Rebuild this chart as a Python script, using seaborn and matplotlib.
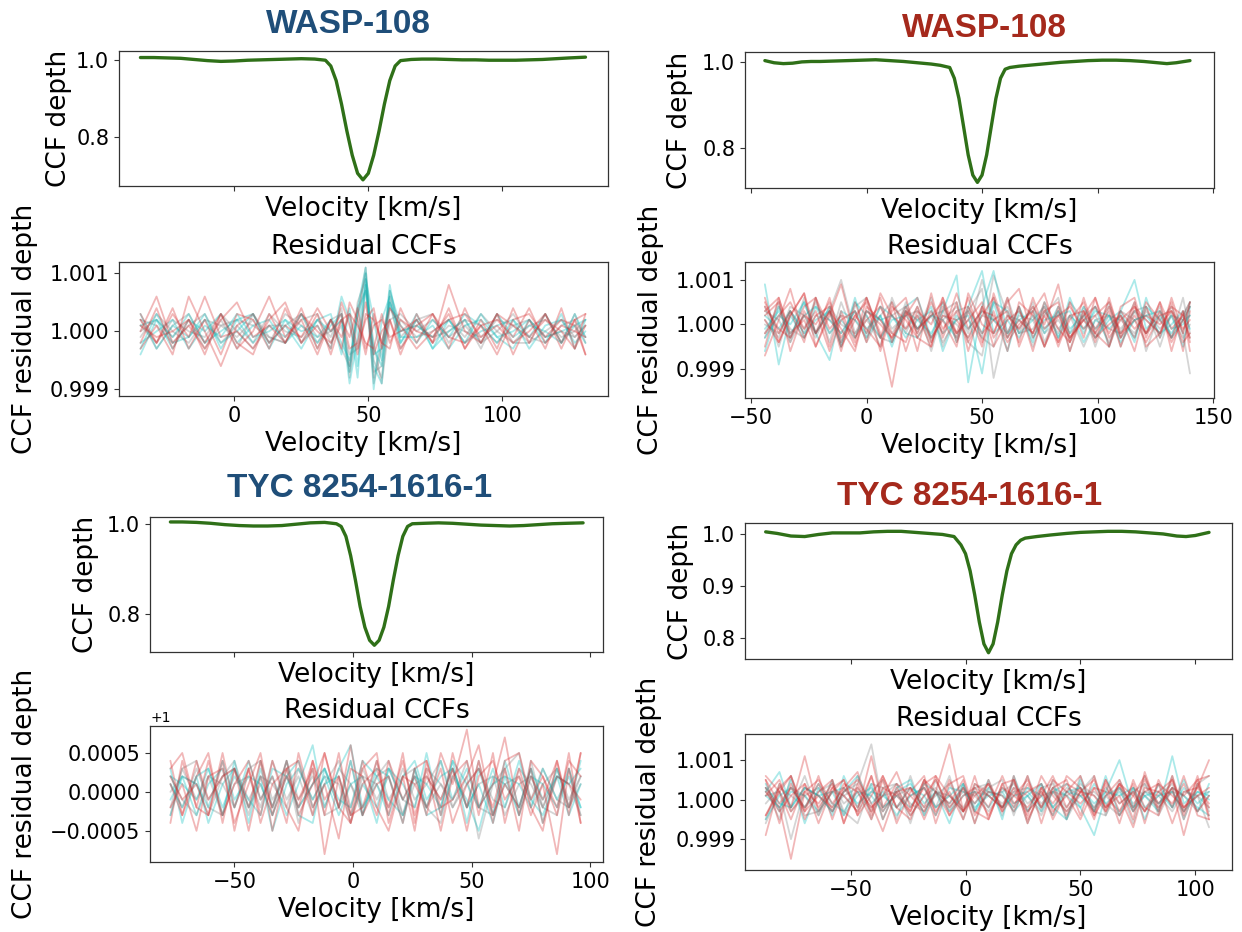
"""CCF profiles and residual CCFs for WASP-108 and TYC 8254-1616-1 (two nights each)."""

import matplotlib

matplotlib.use("Agg")
import matplotlib.pyplot as plt
import pandas as pd
import seaborn as sns

W, H = 1242, 932

BLUE = "#1f4e79"
RED = "#a5291c"
GREEN = "#2f7018"
PALETTE = {"grey": "grey", "cyan": "c", "red": "tab:red"}

# ---------------------------------------------------------------- top left
TL_TITLE = "WASP-108"
TL_CCF_V = [-35, -30, -25, -20, -15, -10, -5, 0, 5, 10, 15, 20, 25, 30, 34, 36, 38, 40, 42,
            44, 46, 48, 50, 52, 54, 56, 58, 60, 62, 66, 70, 75, 80, 85, 90, 95, 100, 105,
            110, 115, 120, 125, 131]
TL_CCF = [1.006, 1.006, 1.005, 1.004, 1.001, 0.998, 0.996, 0.997, 0.999, 1.000, 1.001, 1.002,
          1.003, 1.002, 0.999, 0.984, 0.946, 0.885, 0.815, 0.752, 0.705, 0.688, 0.705, 0.752,
          0.815, 0.885, 0.946, 0.984, 0.998, 1.001, 1.002, 1.002, 1.001, 1.000, 1.000, 0.999,
          0.999, 0.999, 1.000, 1.001, 1.003, 1.005, 1.007]
TL_RES_V = [-35, -29, -23, -17, -11, -5, 1, 7, 13, 19, 25, 31, 36, 40, 43, 46, 49, 52, 55,
            58, 62, 68, 74, 80, 86, 92, 98, 104, 110, 116, 122, 127, 131]
# residuals in units of 1e-4
TL_RED = [
    [0, 6, -2, 1, -3, 2, 5, -1, 1, -2, 3, 0, -2, 2, -1, 4, -3, 1, 2, -1, 0, 2, -2, 8, 0, -2, 3, 1, -1, 2, 0, -3, 1],
    [-3, 1, -4, 6, 0, -6, 1, 3, -2, 1, -1, 4, 0, 3, -3, -2, 5, -4, 0, 2, -3, 1, 3, -1, -2, 1, -4, 2, 3, -1, 2, 1, -4],
    [2, -2, 3, -1, 6, -1, 0, -3, 2, 5, -2, 1, -3, 5, 1, -4, 3, 2, -2, 4, 1, -3, 0, 2, 3, -1, 1, -2, 0, 3, -2, 2, 3],
    [1, -1, 0, 2, -2, 3, -3, 0, 6, -1, 2, -4, 2, -1, 3, 1, -2, -3, 3, -2, 2, 0, -1, 3, -3, 1, 2, -1, 4, -2, 1, 0, -1],
    [3, -2, 4, -3, 2, -4, 3, 2, -3, 4, -2, 3, -4, 2, 3, -3, 2, 4, -3, 2, -4, 3, -2, 4, -3, 2, -3, 4, -2, 3, -3, 2, -4],
    [-2, 4, -3, 2, -4, 3, -2, -4, 3, -2, 4, -3, 2, -3, 5, 2, -4, 3, -2, -3, 4, -2, 3, -3, 4, -2, 3, -4, 2, -3, 4, -3, 3],
]
TL_CYAN = [
    [-4, 2, -1, 3, -2, 0, 2, -2, 1, -1, 3, -2, 1, 3, -7, 4, 11, -6, -9, 7, 1, -2, 2, -1, 3, 1, -2, 2, -1, 3, -2, 1, 2],
    [3, -3, 1, -1, 2, -2, 0, 3, -3, 2, 0, 1, -3, 6, 2, -8, 9, 2, -5, 8, -2, 2, -3, 0, 2, -2, 3, -1, 1, 0, -2, 3, -1],
    [1, 2, -3, 2, 0, 3, -2, 1, 2, -2, 1, -1, 2, -2, -5, 3, 7, -4, -3, 5, 0, 1, -1, 2, -2, 0, 1, 2, -3, 1, 2, -2, 0],
    [-2, 0, 2, -3, 1, -1, 3, -1, 0, 2, -2, 2, 0, 2, -9, -1, 10, -10, 2, 6, -1, -1, 1, -3, 1, 2, -1, 0, 2, -1, 0, 1, -2],
    [-3, 3, -2, -1, 3, -3, 2, 3, -2, 1, -3, 2, 3, -4, 4, -6, 8, -3, -6, 5, -2, 3, -3, 2, -2, 3, -1, -3, 2, -2, 3, -3, 2],
]
TL_GREY = [
    [2, 1, -2, 1, 3, -2, 1, -2, 3, 0, -1, 2, -1, 4, -8, 2, 11, -5, -8, 4, 2, -1, 0, 2, -1, 3, 0, -2, 1, 2, -1, 0, 2],
    [-1, 3, 0, -2, 2, 1, -1, 2, -2, 3, 1, -2, 2, -3, -6, 5, 9, -9, -3, 6, -1, 2, -2, 1, 0, -1, 2, 1, -2, 0, 2, -1, 1],
    [1, -2, 2, 0, -1, 3, 0, -3, 1, 1, 3, -1, 0, 2, -4, -3, 8, -2, -9, 2, 3, 0, 2, -1, 1, -2, 0, 3, -1, -2, 1, 2, -1],
    [0, 2, -1, 2, -3, 1, 2, 1, -1, -2, 2, 3, -2, 1, -7, 3, 10, -7, -6, 7, 0, 1, -1, 0, 2, 1, -2, 1, 2, -1, 0, -1, 1],
    [2, -3, 1, 3, -2, 2, -3, 3, -1, -2, 3, -3, 2, 3, -6, 4, 7, -8, -2, 5, -3, 2, 3, -2, 2, -3, 3, -2, -2, 3, -2, 3, -2],
]

# --------------------------------------------------------------- top right
TR_TITLE = "WASP-108"
TR_CCF_V = [-44, -40, -36, -32, -28, -24, -20, -14, -8, -2, 4, 10, 16, 22, 28, 32, 36, 38, 40,
            42, 44, 46, 48, 50, 52, 54, 56, 58, 60, 62, 66, 72, 78, 84, 90, 96, 102, 108, 114,
            120, 126, 130, 134, 140]
TR_CCF = [1.003, 0.998, 0.996, 0.997, 1.000, 1.001, 1.001, 1.002, 1.003, 1.004, 1.005, 1.003,
          1.001, 0.998, 0.995, 0.992, 0.987, 0.962, 0.915, 0.850, 0.784, 0.737, 0.720, 0.737,
          0.784, 0.850, 0.915, 0.962, 0.983, 0.987, 0.990, 0.993, 0.996, 0.999, 1.001, 1.003,
          1.004, 1.004, 1.003, 1.001, 0.998, 0.996, 0.998, 1.003]
TR_RES_V = [-44, -38, -33, -27, -22, -16, -11, -5, 0, 6, 11, 17, 22, 28, 33, 39, 44, 50, 55,
            61, 66, 72, 77, 83, 88, 94, 99, 105, 110, 116, 121, 127, 132, 137, 140]
TR_RED = [
    [5, -2, 3, -4, 6, -1, 2, -5, 3, 0, -3, 4, -2, 5, -1, 3, -4, 2, 6, -3, 1, -2, 4, -5, 2, 3, -1, 4, -3, 2, -2, 5, -1, 2, -3],
    [-7, 1, 8, -3, 2, 4, -5, 1, 6, -2, -14, 3, -1, 2, 5, -3, 4, -2, 1, 3, -4, 6, -1, 2, -3, 1, 4, -2, 3, -1, 2, 0, 3, -4, -2],
    [3, 6, -2, 1, -5, 2, 9, -3, 1, 4, -2, -4, 3, 0, 6, -2, 1, 5, -3, 2, -1, 4, 0, 9, -3, 1, -2, 3, -5, 4, 1, -2, 4, 2, 5],
    [-2, 2, 5, -1, 3, -6, 1, 3, -4, 7, 2, -1, 4, -3, 1, -5, 7, 0, -2, 5, 8, -3, 2, -4, 1, 5, -3, 0, 2, -3, 5, 1, -3, 3, -6],
    [1, -4, 2, 7, -2, 3, -1, -6, 4, 1, -3, 2, 6, -4, 2, 1, -3, 4, -5, 1, 3, -2, 5, -1, -4, 2, 6, -3, 1, 4, -2, 3, -4, 1, 4],
    [4, -1, -3, 2, 0, 5, -3, 2, -1, -5, 4, 1, -3, 3, -2, 7, -1, 3, 2, -4, 0, 3, -5, 2, 4, -1, 2, 5, -2, 1, -4, 2, 3, -1, 1],
    [6, -4, 2, 7, -5, 3, -6, 5, -2, 6, -4, 3, -6, 7, -3, 5, -6, 4, -2, 6, -5, 3, 7, -4, 5, -3, 6, -5, 2, -6, 4, -3, 6, -2, 5],
    [-5, 6, -3, 4, 6, -5, 3, -4, 6, -3, 5, -6, 2, -5, 6, -4, 3, -5, 7, -2, 4, -6, 3, 5, -4, 6, -2, -5, 4, 6, -3, 5, -6, 3, -4],
    [2, 5, -6, 3, -2, 6, -4, 2, 5, -6, 3, 6, -3, -5, 4, -2, 6, -4, 3, -6, 5, 2, -5, 4, -6, 3, -4, 6, -3, 5, -5, -2, 5, -6, 3],
]
TR_CYAN = [
    [9, -9, 2, -3, 4, 1, -2, 3, -1, 2, -4, 3, 1, -2, 3, 11, -13, 4, 12, -2, 1, 3, -2, 4, -1, 2, -3, 1, 3, 10, -1, 2, -3, 1, 4],
    [-3, 2, 0, 5, -2, -8, 3, 1, -2, 4, 2, -3, 1, 3, -2, 1, 2, -11, 5, 3, -2, 1, 4, -3, 2, -1, 3, 2, -4, 1, 2, -2, 0, 3, -1],
    [2, -1, 3, -2, 1, 3, -4, 5, 2, -3, 1, 2, -1, 4, -6, 2, -1, 3, 1, -2, 4, -3, 1, 2, 3, -4, 1, -1, 2, -3, 4, 1, -2, 2, 5],
    [-1, 3, -2, 2, 4, -2, 1, -3, 3, 1, 2, -2, -3, 2, 1, -3, 4, 12, -2, 1, -3, 2, -1, 3, -2, 4, -1, 2, -3, 1, 2, 3, -1, 0, 2],
    [-6, 4, -3, 5, -2, 4, -5, 6, -3, 2, -5, 4, 6, -3, 5, -4, 3, -2, 5, -6, 3, -4, 5, -3, 6, -2, 4, -5, 3, -4, 6, -3, 2, -5, 4],
]
TR_GREY = [
    [1, -3, 4, 2, -2, 3, 10, -2, 1, -3, 2, 4, -1, 2, -4, 1, 3, 8, -12, 2, 1, -2, 3, -1, 2, -5, 1, 2, -1, 3, -2, 1, 4, -2, -11],
    [-2, 4, -1, -3, 2, 1, -2, 3, -4, 2, 5, -1, 2, -3, 1, 4, -2, 10, 1, -3, 2, 1, -5, 3, -2, 1, 2, -4, 3, 1, -2, 4, -3, 1, 2],
    [3, 1, -4, 2, -3, 4, 0, -2, 3, 1, -2, 3, -1, 2, 3, -2, 1, -3, 11, 2, -1, 4, -2, 1, -3, 2, 4, -1, -2, 3, 1, -2, 2, -3, 0],
    [0, -2, 3, -1, 5, -2, 2, 1, -3, 4, -1, 2, 3, -4, 2, 0, -3, 2, 1, 4, -2, -1, 3, -2, 5, 1, -3, 2, 1, -2, 3, -1, 2, 1, -3],
    [4, -5, 3, -2, 6, -4, 5, -3, 2, -5, 6, -2, 4, -6, 3, 5, -4, -7, 6, -3, 4, -5, 2, 6, -4, 3, -5, 4, -2, 5, -6, 3, -3, 6, -2],
    [-3, 5, -4, 6, -2, 3, -5, 4, 6, -3, -4, 5, -2, 6, -5, 3, 4, -3, -5, 6, -2, 5, -4, 3, -6, 4, -2, 5, -5, 3, 4, -5, 3, -2, 5],
]

# ------------------------------------------------------------- bottom left
BL_TITLE = "TYC 8254-1616-1"
BL_CCF_V = [-77, -72, -66, -60, -54, -48, -42, -36, -30, -24, -18, -12, -7, -5, -3, -1, 1, 3,
            5, 7, 9, 11, 13, 15, 17, 19, 21, 23, 25, 30, 36, 42, 48, 54, 60, 66, 72, 78, 84,
            90, 97]
BL_CCF = [1.005, 1.005, 1.004, 1.002, 0.999, 0.997, 0.996, 0.996, 0.997, 1.000, 1.003, 1.004,
          1.001, 0.995, 0.973, 0.930, 0.876, 0.817, 0.771, 0.742, 0.731, 0.742, 0.771, 0.817,
          0.876, 0.930, 0.973, 0.995, 1.001, 1.002, 1.003, 1.002, 1.000, 0.998, 0.997, 0.996,
          0.997, 0.999, 1.001, 1.002, 1.003]
BL_RES_V = [-77, -72, -66, -61, -55, -50, -44, -39, -34, -28, -23, -17, -12, -6, -1, 4, 10, 15,
            21, 26, 31, 37, 42, 48, 53, 59, 64, 70, 75, 80, 86, 91, 96]
BL_RED = [
    [3, 5, -2, 4, -3, 1, 4, -1, 2, -4, 5, -2, 1, -6, 3, 2, -3, 4, -1, 2, -3, 5, 1, 8, -2, 1, 7, -3, 2, -1, 4, -2, 5],
    [-2, 1, -5, 2, 3, -4, 1, 5, -3, 2, -1, 3, -8, 2, -4, 1, 3, -2, 4, -3, 2, -1, 3, -5, 2, 4, -1, 2, -3, 1, -8, 3, -4],
    [1, -3, 4, -1, 2, 3, -5, 2, -2, 4, -3, 1, 5, -2, 6, -3, 1, 2, -4, 3, 4, -2, -1, 2, 6, -3, 1, -2, 3, -4, 2, 1, -1],
    [2, -1, 1, -3, 5, -2, 3, -4, 1, 3, -2, 4, -1, 2, -3, 4, -2, -5, 2, 1, -2, 3, -4, 1, 3, -2, 4, 5, -1, 2, -2, 4, 2],
    [4, -3, 2, 5, -4, 3, -2, 4, -5, 3, 4, -3, 5, -2, -4, 3, 5, -4, 2, -5, 4, -3, 5, -2, 4, -4, 3, -5, 4, 2, -3, 5, -4],
    [-4, 4, -2, -3, 4, -5, 3, -3, 4, -2, -5, 4, -3, 5, -3, -2, 4, -3, 5, -4, 3, -5, 2, 4, -3, 5, -4, 3, -2, -5, 4, -3, 5],
]
BL_CYAN = [
    [-1, 2, -3, 1, 3, -2, 4, -1, 2, -3, 1, 6, -2, 3, 6, -2, 1, -3, 2, 4, -1, 2, 3, -2, 1, -4, 2, 1, -2, 3, -1, 2, -2],
    [1, -2, 2, -4, 1, 3, -2, 2, -5, 1, 3, -1, 2, -3, 1, 2, -4, 3, 1, -2, 5, -3, 2, -1, -5, 2, 1, -2, 3, -1, 2, -3, 1],
    [2, 1, -1, 3, -2, 2, -1, -3, 3, 2, -2, 1, 3, -1, -2, 4, 2, -1, -3, 2, 1, -2, 4, 1, -2, 3, -2, 4, -1, -3, 2, 1, 3],
    [-3, 2, 1, -2, 4, -1, 2, 1, -3, 2, 4, -2, 1, 2, -3, 1, -2, 3, -1, 2, -2, 4, -1, 3, -2, 1, 2, -3, 2, 1, -2, 3, -2],
    [3, -4, 2, 3, -3, 4, -4, 3, -2, 4, -3, -4, 3, -2, 4, -3, 3, 2, -4, 3, -3, -2, 4, -4, 3, -3, 4, -2, 3, -4, 3, -2, 4],
]
BL_GREY = [
    [1, -2, 3, -1, 2, 4, -2, 1, -3, 4, -1, 2, -2, 3, 1, -2, 2, 3, -1, -2, 3, 1, -2, 2, -6, 1, 3, 5, -2, 1, 3, -1, 2],
    [-2, 3, -1, 2, -3, 1, 2, -2, 4, -1, 2, -3, 1, 4, -2, 3, -1, 2, -3, 1, 2, -1, 3, -2, 1, 2, -3, 1, 2, -2, 3, -2, 1],
    [2, -1, -3, 2, 1, -2, 3, 4, -1, 2, -2, 1, 3, -2, 1, -3, 4, -1, 2, 3, -2, 1, -1, 4, -2, -3, 1, 2, -1, 3, -1, -2, 2],
    [0, 2, 1, -3, 2, 3, -1, 2, 1, -2, 3, -1, 2, 1, -4, 2, 1, -2, 3, -1, 1, 4, -2, 1, 3, -1, -2, 3, 1, -2, 2, 1, -3],
    [-3, 3, 4, -2, -3, 3, -3, 4, -2, 3, -4, 3, -3, -2, 4, -3, 2, 4, -3, 3, -2, -4, 3, -2, 4, -3, 3, -3, 4, -2, -3, 3, -3],
]

# ------------------------------------------------------------ bottom right
BR_TITLE = "TYC 8254-1616-1"
BR_CCF_V = [-87, -82, -76, -70, -64, -58, -52, -46, -40, -34, -28, -22, -16, -10, -5, -2, 0, 2,
            4, 6, 8, 10, 12, 14, 16, 18, 20, 22, 24, 26, 31, 37, 44, 50, 56, 62, 68, 74, 80,
            86, 92, 96, 100, 106]
BR_CCF = [1.004, 1.001, 0.996, 0.995, 0.999, 1.002, 1.002, 1.002, 1.004, 1.005, 1.005, 1.003,
          1.001, 0.999, 0.995, 0.979, 0.962, 0.929, 0.883, 0.831, 0.789, 0.772, 0.789, 0.831,
          0.883, 0.929, 0.962, 0.979, 0.988, 0.992, 0.995, 0.998, 1.001, 1.003, 1.004, 1.005,
          1.005, 1.004, 1.002, 1.000, 0.996, 0.995, 0.997, 1.003]
BR_RES_V = [-87, -81, -76, -70, -64, -58, -53, -47, -41, -36, -30, -24, -18, -13, -7, -1, 4, 10,
            16, 21, 27, 33, 38, 44, 50, 56, 61, 67, 73, 78, 84, 90, 95, 101, 106]
BR_RED = [
    [-9, 4, -2, 11, -3, 2, 5, -4, 1, 6, -2, 3, -5, 2, 14, -3, 1, 4, -2, 5, -3, 1, 6, -2, 3, -4, 1, 5, -3, 2, 4, -6, 2, 3, 10],
    [3, -2, -15, 2, 5, -1, 3, -2, 6, -3, 2, -4, 1, 5, -2, 3, -1, 4, -3, 1, 5, -2, 3, -4, 2, 1, -3, 4, -2, 5, -1, 3, -9, 4, -2],
    [1, 5, -3, 2, -1, 4, -6, 3, -2, 1, 7, -2, 3, -3, 2, -5, 4, 1, -2, 3, -4, 6, 1, -3, 2, 5, -2, 1, -7, 3, 2, -1, 4, -3, 1],
    [-4, 2, 6, -3, 1, -2, 4, 2, -5, 3, 1, -3, 5, 2, -4, 1, 3, -2, 6, -1, 2, 4, -3, 1, -5, 3, 2, -4, 1, 6, -2, 3, 1, 5, -4],
    [2, -3, 1, 4, -2, 3, 1, -3, 11, -2, 4, 1, -3, 2, -1, 5, -4, 2, 1, -3, 4, -2, 5, 2, -1, 3, -2, 4, 1, -3, 2, 5, -2, 1, 3],
    [5, -1, 3, -2, 4, -3, 2, 5, -1, -8, 2, 3, -2, 6, 1, -3, 2, -4, 3, 1, -2, 3, -1, 4, 2, -3, 5, -1, 2, -3, 4, 1, -2, 3, -1],
    [5, -6, 4, -3, 6, -5, 3, 7, -4, 5, -6, 2, 6, -4, 5, -3, 6, -5, 4, -2, 6, -6, 3, 5, -4, 6, -3, 4, -5, 7, -3, 5, -4, 6, -5],
    [-4, 3, 6, -5, 2, 5, -6, 4, -3, 6, -2, -5, 4, 6, -4, 3, -6, 5, -3, 6, -5, 2, -4, 6, 3, -5, 4, -6, 5, -2, -4, 6, -3, 5, 6],
    [6, 2, -5, 4, -6, 3, 5, -4, 6, -5, 3, -3, 5, -6, 4, 6, -3, -5, 4, 5, -6, 3, -5, 2, 6, -4, 5, -3, 4, -6, 5, -2, 6, -4, -5],
]
BR_CYAN = [
    [2, 7, -2, 3, 1, -3, 2, 6, -1, 2, -4, 1, 3, -2, 1, 4, -3, 2, 1, -2, 3, 1, -4, 2, 3, -1, 2, 10, -2, 1, -3, 11, -1, 2, 1],
    [-5, 1, 3, -2, 4, -1, -3, 2, 1, -3, 2, 4, -1, 2, -3, 1, 2, -2, 3, -1, 1, -3, 2, 4, -2, -9, 1, 3, -2, 2, -1, 3, 1, -2, -4],
    [1, -2, 2, 1, -3, 2, 3, -1, 2, 1, -2, 3, 1, -4, 3, 2, -1, 3, -2, 1, 2, -2, 3, 1, -2, 4, -1, 2, -3, 1, 2, -2, 3, -1, 2],
    [3, -1, -2, 3, 1, 2, -4, 1, 3, -2, 1, -2, 4, 2, -1, 3, -2, 1, 2, -3, 1, 4, -2, 2, 1, -3, 2, 1, 3, -2, 1, 2, -3, 2, 0],
    [4, -3, 5, -6, 3, -4, 6, -2, 4, -5, 3, 5, -4, 2, -6, 4, -3, 5, -5, 6, -3, 4, -2, -5, 5, -3, 6, -4, 3, -5, 4, -2, 5, -3, 4],
]
BR_GREY = [
    [-6, 2, -10, 3, 1, -3, 2, 4, 14, -2, 1, 3, -2, 1, 4, -3, 2, 1, -2, 3, 1, -4, 2, 1, 3, -2, 1, -3, 2, 4, -1, 2, -3, 1, -7],
    [2, -2, 3, 1, -4, 2, 1, -3, 2, 5, -2, 1, 3, -2, 1, -3, 4, 2, -1, 2, -3, 1, 2, -2, 4, 1, -2, 3, -1, 2, 1, -3, 2, 1, -2],
    [-1, 3, 1, -2, 2, 4, -1, 2, -3, 1, 2, -4, 1, 3, -2, 2, 1, -3, 2, 4, -1, 2, -2, 3, 1, -2, 3, -1, 2, -3, 1, 4, -2, 1, 2],
    [1, 2, -3, 1, 3, -2, 1, 3, -2, 1, 4, -1, -3, 2, 1, -2, 3, 1, -2, 2, 3, -1, 2, -3, 1, 2, -1, -4, 3, 1, -2, 2, 1, -3, 1],
    [-5, 4, -2, 6, -4, 5, -3, -6, 4, 3, -5, 6, -4, 5, -3, 4, -6, 3, 5, -4, 6, -3, 5, -5, 2, 6, -4, 3, -6, 4, -3, 6, -5, 4, -3],
    [3, -5, 6, -4, -3, 5, -4, 6, -5, 3, 4, -6, 5, -2, 6, -5, 3, 4, -4, 5, -6, 3, 4, -5, 6, -3, -4, 5, -3, 6, -4, 3, -5, 4, 6],
]

# layout (pixel boxes: left, top, right, bottom) and axis settings per panel
PANELS = [
    dict(title=TL_TITLE, color=BLUE, title_xy=(348, 33),
         ccf_v=TL_CCF_V, ccf=TL_CCF, res_v=TL_RES_V, red=TL_RED, cyan=TL_CYAN, grey=TL_GREY,
         top_box=(119, 51, 608, 186), bot_box=(119, 262, 608, 396),
         xlim=(-43, 139.4), xticks=[0, 50, 100],
         top_ylim=(0.672, 1.023), top_yticks=[0.8, 1.0],
         bot_ylim=(0.998885, 1.001195), bot_yticks=[0.999, 1.0, 1.001], offset=False,
         ylab_x=(72, 38)),
    dict(title=TR_TITLE, color=RED, title_xy=(984, 37),
         ccf_v=TR_CCF_V, ccf=TR_CCF, res_v=TR_RES_V, red=TR_RED, cyan=TR_CYAN, grey=TR_GREY,
         top_box=(745, 52, 1214, 188), bot_box=(745, 262, 1214, 398),
         xlim=(-52.6, 150.4), xticks=[-50, 0, 50, 100, 150],
         top_ylim=(0.707, 1.023), top_yticks=[0.8, 1.0],
         bot_ylim=(0.99835, 1.0014), bot_yticks=[0.999, 1.0, 1.001], offset=False,
         ylab_x=(693, 664)),
    dict(title=BL_TITLE, color=BLUE, title_xy=(360, 497),
         ccf_v=BL_CCF_V, ccf=BL_CCF, res_v=BL_RES_V, red=BL_RED, cyan=BL_CYAN, grey=BL_GREY,
         top_box=(150, 517, 603, 652), bot_box=(150, 726, 603, 862),
         xlim=(-85.6, 105.4), xticks=[-50, 0, 50, 100],
         top_ylim=(0.716, 1.016), top_yticks=[0.8, 1.0],
         bot_ylim=(0.9991, 1.000846), bot_yticks=[0.9995, 1.0, 1.0005], offset=True,
         ylab_x=(99, 38)),
    dict(title=BR_TITLE, color=RED, title_xy=(970, 505),
         ccf_v=BR_CCF_V, ccf=BR_CCF, res_v=BR_RES_V, red=BR_RED, cyan=BR_CYAN, grey=BR_GREY,
         top_box=(745, 523, 1232, 659), bot_box=(745, 734, 1232, 870),
         xlim=(-96, 116), xticks=[-50, 0, 50, 100],
         top_ylim=(0.760, 1.021), top_yticks=[0.8, 0.9, 1.0],
         bot_ylim=(0.99822, 1.00166), bot_yticks=[0.999, 1.0, 1.001], offset=False,
         ylab_x=(694, 662)),
]


def fig_rect(box):
    left, top, right, bottom = box
    return [left / W, 1 - bottom / H, (right - left) / W, (bottom - top) / H]


def residual_frame(vel, red, cyan, grey):
    rows = []
    for group, curves in (("grey", grey), ("cyan", cyan), ("red", red)):
        for i, curve in enumerate(curves):
            for v, r in zip(vel, curve, strict=True):
                rows.append({"velocity": v, "depth": 1 + r * 1e-4,
                             "group": group, "curve": f"{group}{i}"})
    return pd.DataFrame(rows)


def set_ylabel(fig, ax, text, x_px, box):
    ax.set_ylabel(text, fontsize=19)
    y_mid = (box[1] + box[3]) / 2
    ax.yaxis.set_label_coords(x_px / W, 1 - y_mid / H, transform=fig.transFigure)


def draw_panel(fig, p):
    ax_top = fig.add_axes(fig_rect(p["top_box"]))
    ax_bot = fig.add_axes(fig_rect(p["bot_box"]))

    sns.lineplot(x=p["ccf_v"], y=p["ccf"], color=GREEN, lw=2.4, ax=ax_top)
    res = residual_frame(p["res_v"], p["red"], p["cyan"], p["grey"])
    sns.lineplot(data=res, x="velocity", y="depth", hue="group", units="curve",
                 estimator=None, palette=PALETTE, hue_order=["grey", "cyan", "red"],
                 alpha=0.33, lw=1.3, legend=False, sort=False, ax=ax_bot)

    for ax in (ax_top, ax_bot):
        ax.set_xlim(*p["xlim"])
        ax.set_xticks(p["xticks"])
        ax.set_xlabel("Velocity [km/s]", fontsize=19)
    ax_top.tick_params(axis="x", labelbottom=False)

    ax_top.set_ylim(*p["top_ylim"])
    ax_top.set_yticks(p["top_yticks"])
    ax_bot.set_ylim(*p["bot_ylim"])
    ax_bot.set_yticks(p["bot_yticks"])
    fmt = ax_bot.yaxis.get_major_formatter()
    if p["offset"]:
        fmt.set_useOffset(1.0)
        ax_bot.yaxis.offsetText.set_fontsize(10)
    else:
        fmt.set_useOffset(False)

    ax_bot.set_title("Residual CCFs", fontsize=19, color="black")
    set_ylabel(fig, ax_top, "CCF depth", p["ylab_x"][0], p["top_box"])
    set_ylabel(fig, ax_bot, "CCF residual depth", p["ylab_x"][1], p["bot_box"])

    tx, ty = p["title_xy"]
    fig.text(tx / W, 1 - ty / H, p["title"], ha="center", va="baseline", fontsize=24,
             fontweight="bold", family="Liberation Sans", color=p["color"])


def main() -> None:
    sns.set_style("ticks")
    plt.rcParams.update({
        "font.family": ["DejaVu Sans"],
        "text.color": "black",
        "xtick.labelsize": 15,
        "ytick.labelsize": 15,
        "xtick.major.size": 3.5,
        "ytick.major.size": 3.5,
        "xtick.major.width": 0.8,
        "ytick.major.width": 0.8,
        "axes.linewidth": 0.9,
        "axes.edgecolor": "#333333",
        "xtick.color": "#333333",
        "ytick.color": "#333333",
        "xtick.labelcolor": "black",
        "ytick.labelcolor": "black",
        "axes.labelcolor": "black",
    })

    fig = plt.figure(figsize=(W / 100, H / 100), dpi=100)
    for panel in PANELS:
        draw_panel(fig, panel)
    fig.savefig("out.png", dpi=100)
    plt.close(fig)


if __name__ == "__main__":
    main()
